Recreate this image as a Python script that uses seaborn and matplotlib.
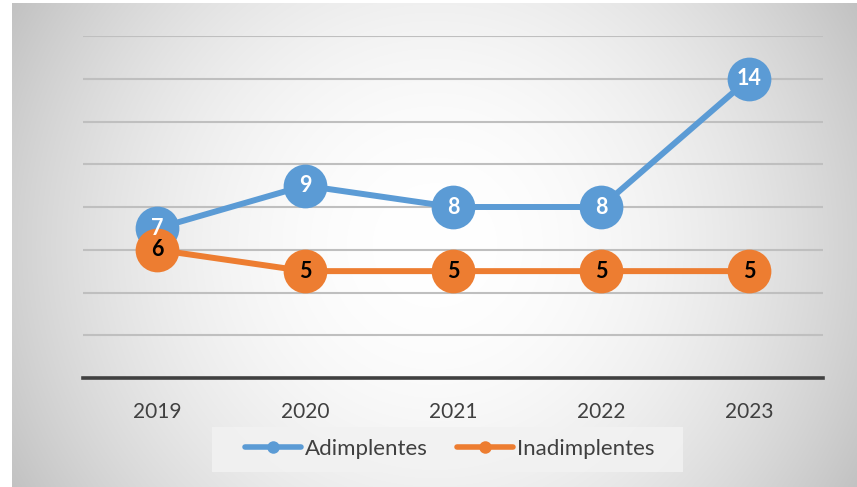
"""Adimplentes vs Inadimplentes line chart, Excel-style look."""

import numpy as np
import pandas as pd
import matplotlib
matplotlib.use('Agg')
import matplotlib.pyplot as plt
from matplotlib.lines import Line2D
from matplotlib.patches import Rectangle
import seaborn as sns

years = [2019, 2020, 2021, 2022, 2023]
adimplentes = [7, 9, 8, 8, 14]
inadimplentes = [6, 5, 5, 5, 5]
series_names = ['Adimplentes', 'Inadimplentes']
colors = ['#5b9bd5', '#ed7d31']
label_colors = ['white', 'black']

sns.set_style('white')
plt.rcParams['font.family'] = ['Lato', 'DejaVu Sans']

df = pd.DataFrame({
    'ano': years * 2,
    'valor': adimplentes + inadimplentes,
    'serie': [series_names[0]] * len(years) + [series_names[1]] * len(years),
})

W, H = 857, 487
fig = plt.figure(figsize=(W / 100, H / 100), dpi=100)
fig.patch.set_facecolor('white')

# radial gradient background of the chart frame
bg = fig.add_axes([12 / W, 0, (W - 12) / W, (H - 3) / H], zorder=0)
gw, gh = W - 12, H - 3
yy, xx = np.mgrid[0:gh, 0:gw]
cx, cy = gw / 2, gh / 2
d = np.hypot(xx - cx, yy - cy) / np.hypot(cx, cy)
shade = 1 - 0.24 * d ** 2
bg.imshow(np.dstack([shade] * 3), aspect='auto', interpolation='bilinear')
bg.set_axis_off()

ax = fig.add_axes([83 / W, (H - 378) / H, 740 / W, 342 / H], zorder=1)
ax.patch.set_alpha(0)

sns.lineplot(data=df, x='ano', y='valor', hue='serie', hue_order=series_names,
             palette=colors, marker='o', markersize=31.5, markeredgewidth=0,
             linewidth=4.3, legend=False, ax=ax)

for vals, lc in zip([adimplentes, inadimplentes], label_colors):
    for x, v in zip(years, vals):
        ax.text(x, v, str(v), ha='center', va='center', fontsize=15.5,
                fontweight='bold', color=lc, zorder=10)

ax.set_xlim(years[0] - 0.5, years[-1] + 0.5)
ax.set_ylim(0, 16)
ax.set_yticks(range(0, 17, 2))
ax.set_xticks(years)
ax.set_xticklabels([str(y) for y in years])
ax.yaxis.grid(True, color='#bfbfbf', linewidth=1.5)
ax.set_axisbelow(True)
ax.tick_params(axis='y', left=False, labelleft=False)
ax.tick_params(axis='x', length=0, pad=17, labelsize=15, labelcolor='#404040')
ax.set_xlabel('')
ax.set_ylabel('')
for side in ['top', 'left', 'right']:
    ax.spines[side].set_visible(False)
ax.spines['bottom'].set_color('#404040')
ax.spines['bottom'].set_linewidth(2.6)

# legend box (wider than its content, as in the original)
fig.patches.append(Rectangle((212 / W, 1 - 472 / H), 471 / W, 45 / H,
                             transform=fig.transFigure, facecolor='#f2f2f2',
                             edgecolor='none', alpha=0.85, zorder=1))

handles = [Line2D([0], [0], color=c, linewidth=4, marker='o', markersize=9,
                  markeredgewidth=0) for c in colors]
leg = fig.legend(handles, series_names, loc='center', bbox_to_anchor=(450 / W, 1 - 449 / H),
                 ncol=2, frameon=False, fontsize=16, handlelength=2.5, handletextpad=0.2,
                 columnspacing=1.3)
for t in leg.get_texts():
    t.set_color('#404040')

fig.savefig('out.png', dpi=100)
